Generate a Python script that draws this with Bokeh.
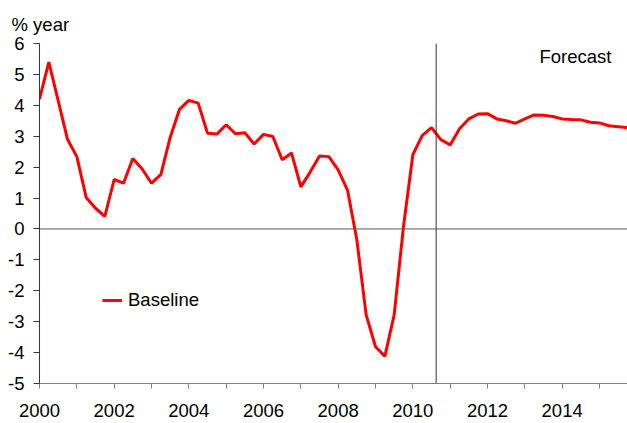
from bokeh.plotting import figure
from bokeh.models import FixedTicker, Span, Label, Legend, LegendItem, Range1d
from bokeh.embed import file_html
from bokeh.resources import INLINE

# Quarterly growth, % year (2000Q1 .. 2015Q4)
years = list(range(2000, 2016))
baseline = [
    4.2, 5.4, 4.15, 2.9,     # 2000
    2.34, 1.02, 0.67, 0.41,  # 2001
    1.6, 1.48, 2.28, 1.94,   # 2002
    1.48, 1.76, 2.96, 3.87,  # 2003
    4.16, 4.07, 3.1, 3.07,   # 2004
    3.37, 3.08, 3.11, 2.75,  # 2005
    3.06, 2.99, 2.24, 2.46,  # 2006
    1.36, 1.84, 2.36, 2.34,  # 2007
    1.91, 1.26, -0.35, -2.78,  # 2008
    -3.81, -4.12, -2.78, 0.08,  # 2009
    2.4, 3.02, 3.28, 2.89,   # 2010
    2.72, 3.24, 3.56, 3.72,  # 2011
    3.73, 3.56, 3.5, 3.42,   # 2012
    3.56, 3.69, 3.68, 3.64,  # 2013
    3.56, 3.54, 3.53, 3.45,  # 2014
    3.43, 3.34, 3.31, 3.28,  # 2015
]
quarters = [y + q / 4 for y in years for q in range(4)]
forecast_start = 2010.625
x_ticks = list(range(2000, 2016))
x_labels = {t: (str(t) if t % 2 == 0 else "") for t in x_ticks}
y_ticks = list(range(-5, 7))
y_labels = {t: str(t) for t in y_ticks}

FONT = "Liberation Sans"
FS = "18.5px"

p = figure(width=627, height=423, output_backend="svg", toolbar_location=None,
           x_range=Range1d(2000, 2015.75), y_range=Range1d(-5, 6),
           min_border_left=39, min_border_right=0, min_border_top=43,
           min_border_bottom=40)
p.outline_line_color = None
p.grid.visible = False
p.background_fill_color = "white"
p.border_fill_color = "white"

p.title.text = "% year"
p.title.text_font = FONT
p.title.text_font_size = FS
p.title.text_font_style = "normal"
p.title.text_color = "#000000"
p.title.align = "left"
p.title.offset = -28
p.title.standoff = 18

xa = p.xaxis[0]
xa.ticker = FixedTicker(ticks=x_ticks)
xa.major_label_overrides = x_labels
xa.minor_tick_line_color = None
xa.major_tick_in = 0
xa.major_tick_out = 5
xa.axis_line_color = "#7f7f7f"
xa.major_tick_line_color = "#7f7f7f"
xa.major_label_text_font = FONT
xa.major_label_text_font_size = FS
xa.major_label_text_color = "#000000"
xa.major_label_standoff = 15

ya = p.yaxis[0]
ya.ticker = FixedTicker(ticks=y_ticks)
ya.major_label_overrides = y_labels
ya.minor_tick_line_color = None
ya.major_tick_in = 0
ya.major_tick_out = 6
ya.axis_line_color = "#1f3a5a"
ya.major_tick_line_color = "#1f3a5a"
ya.major_label_text_font = FONT
ya.major_label_text_font_size = FS
ya.major_label_text_color = "#000000"
ya.major_label_standoff = 9

p.add_layout(Span(location=0, dimension="width", line_color="#595959", line_width=1))
p.add_layout(Span(location=forecast_start, dimension="height", line_color="#333333", line_width=1))

r = p.line(quarters, baseline, line_color="#ff0000", line_width=3)

p.add_layout(Label(x=2013.39, y=5.57, text="Forecast", text_font=FONT, text_font_size=FS,
                   text_baseline="middle", text_color="#000000"))

legend = Legend(items=[LegendItem(label="Baseline", renderers=[r])],
                location=(63, 72), border_line_color=None, background_fill_alpha=0,
                padding=0, margin=0, glyph_width=20, label_standoff=6,
                label_text_font=FONT, label_text_font_size=FS, label_text_color="#000000")
p.add_layout(legend)

open("out.html", "w").write(file_html(p, INLINE))
